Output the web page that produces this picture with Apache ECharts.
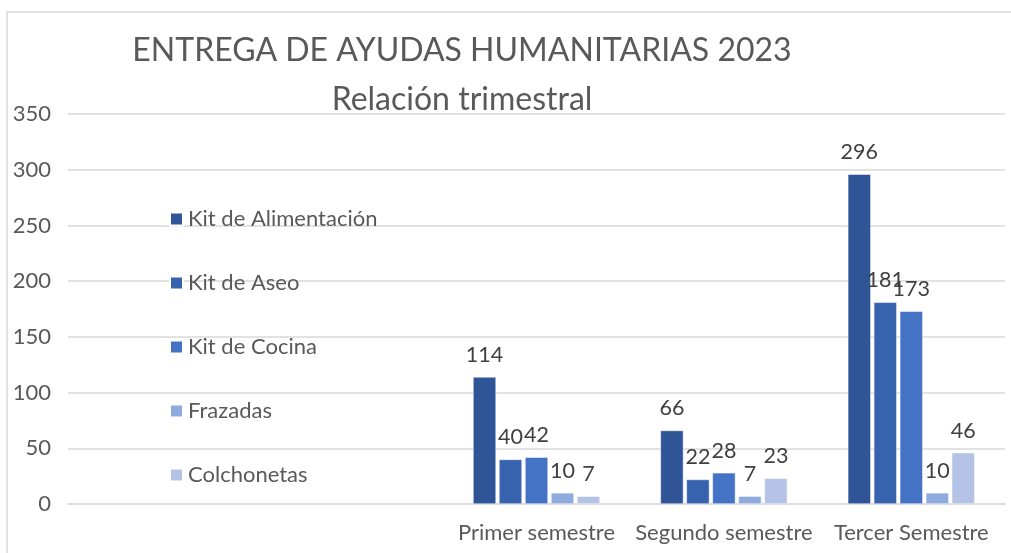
<!DOCTYPE html>
<html>
<head>
<meta charset="UTF-8">
<title>Entrega de ayudas humanitarias 2023</title>
<script src="https://cdn.jsdelivr.net/npm/echarts@6/dist/echarts.min.js"></script>
<style>
  body { margin: 0; background: #fff; }
  #chart1 { width: 1011px; height: 553px; }
</style>
</head>
<body>
<div id="chart1"></div>
<script type="text/javascript">
// categorias del eje x (las dos primeras vacias, ahi va la leyenda)
var categorias = ['', '', 'Primer semestre', 'Segundo semestre', 'Tercer Semestre'];
var alimentacion = [null, null, 114, 66, 296];
var aseo = [null, null, 40, 22, 181];
var cocina = [null, null, 42, 28, 173];
var frazadas = [null, null, 10, 7, 10];
var colchonetas = [null, null, 7, 23, 46];

var nombres = ['Kit de Alimentación', 'Kit de Aseo', 'Kit de Cocina', 'Frazadas', 'Colchonetas'];
var valores = [alimentacion, aseo, cocina, frazadas, colchonetas];
var colores = ['#2f5597', '#3762ad', '#4472c4', '#8faadc', '#b4c2e5'];

var fuente = 'Lato';

var series = nombres.map(function (n, i) {
  return {
    name: n,
    type: 'bar',
    data: valores[i],
    barWidth: 23,
    barGap: '13%',
    itemStyle: { color: colores[i], borderColor: '#fff', borderWidth: 0.5 },
    label: {
      show: true,
      position: 'top',
      distance: 11,
      color: '#404040',
      fontSize: 21.5,
      fontFamily: fuente
    }
  };
});

var chart1 = echarts.init(document.getElementById('chart1'));
var option = {
  backgroundColor: '#fff',
  animation: false,
  color: colores,
  graphic: [{
    type: 'rect',
    shape: { x: 7, y: 12, width: 1100, height: 600 },
    style: { fill: 'none', stroke: '#d9d9d9', lineWidth: 1.5 },
    silent: true
  }],
  title: {
    text: 'ENTREGA DE AYUDAS HUMANITARIAS 2023\nRelación trimestral',
    left: 457,
    textAlign: 'center',
    top: 21,
    textStyle: {
      color: '#595959',
      fontSize: 32,
      fontWeight: 'normal',
      fontFamily: fuente,
      lineHeight: 49
    }
  },
  legend: {
    orient: 'vertical',
    left: 164,
    top: 203,
    itemWidth: 13,
    itemHeight: 13,
    itemGap: 42,
    icon: 'rect',
    textStyle: { color: '#595959', fontSize: 22, fontFamily: fuente }
  },
  grid: { left: 68, right: 6, top: 114, bottom: 49 },
  xAxis: {
    type: 'category',
    data: categorias,
    axisLine: { show: true, lineStyle: { color: '#d9d9d9', width: 1.5 } },
    axisTick: { show: false },
    axisLabel: { color: '#595959', fontSize: 22, fontFamily: fuente, margin: 18, interval: 0 }
  },
  yAxis: {
    type: 'value',
    min: 0,
    max: 350,
    interval: 50,
    axisLine: { show: false },
    axisTick: { show: false },
    splitLine: { lineStyle: { color: '#d9d9d9', width: 1.5 } },
    axisLabel: { color: '#595959', fontSize: 22, fontFamily: fuente, margin: 17 }
  },
  series: series
};
chart1.setOption(option);
</script>
</body>
</html>
